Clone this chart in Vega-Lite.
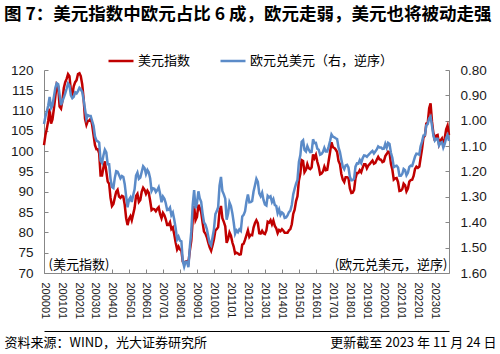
{
  "$schema": "https://vega.github.io/schema/vega-lite/v6.json",
  "width": 405,
  "height": 203,
  "autosize": "none",
  "padding": {"left": 44, "top": 70, "right": 51, "bottom": 81},
  "background": "white",
  "config": {"view": {"stroke": null}, "font": "Noto Sans CJK SC"},
  "title": {
    "text": "图 7：美元指数中欧元占比 6 成，欧元走弱，美元也将被动走强",
    "anchor": "start",
    "frame": "group",
    "dx": -40,
    "offset": 24,
    "fontSize": 17.5,
    "fontWeight": "bold",
    "font": "Noto Sans CJK SC",
    "color": "#000000"
  },
  "data": {
    "values": [
      {"date":"2000-01","usd":101.5,"eur":1.013},{"date":"2000-02","usd":104.0,"eur":0.983},{"date":"2000-03","usd":105.5,"eur":0.964},{"date":"2000-04","usd":107.5,"eur":0.940},{"date":"2000-05","usd":110.5,"eur":0.906},{"date":"2000-06","usd":106.8,"eur":0.950},{"date":"2000-07","usd":107.8,"eur":0.940},{"date":"2000-08","usd":110.5,"eur":0.905},{"date":"2000-09","usd":113.5,"eur":0.870},{"date":"2000-10","usd":116.5,"eur":0.852},{"date":"2000-11","usd":116.0,"eur":0.856},{"date":"2000-12","usd":111.0,"eur":0.897},
      {"date":"2001-01","usd":110.5,"eur":0.938},{"date":"2001-02","usd":112.5,"eur":0.922},{"date":"2001-03","usd":115.5,"eur":0.909},{"date":"2001-04","usd":117.0,"eur":0.892},{"date":"2001-05","usd":117.8,"eur":0.874},{"date":"2001-06","usd":119.0,"eur":0.853},{"date":"2001-07","usd":118.5,"eur":0.861},{"date":"2001-08","usd":115.0,"eur":0.900},{"date":"2001-09","usd":114.0,"eur":0.911},{"date":"2001-10","usd":116.0,"eur":0.906},{"date":"2001-11","usd":117.0,"eur":0.888},{"date":"2001-12","usd":117.5,"eur":0.892},
      {"date":"2002-01","usd":119.0,"eur":0.883},{"date":"2002-02","usd":119.2,"eur":0.870},{"date":"2002-03","usd":118.5,"eur":0.876},{"date":"2002-04","usd":116.5,"eur":0.886},{"date":"2002-05","usd":113.0,"eur":0.917},{"date":"2002-06","usd":108.0,"eur":0.955},{"date":"2002-07","usd":106.5,"eur":0.992},{"date":"2002-08","usd":107.5,"eur":0.978},{"date":"2002-09","usd":107.5,"eur":0.981},{"date":"2002-10","usd":108.0,"eur":0.981},{"date":"2002-11","usd":106.5,"eur":1.001},{"date":"2002-12","usd":104.0,"eur":1.020},
      {"date":"2003-01","usd":101.5,"eur":1.062},{"date":"2003-02","usd":100.5,"eur":1.078},{"date":"2003-03","usd":100.5,"eur":1.081},{"date":"2003-04","usd":99.5,"eur":1.086},{"date":"2003-05","usd":94.0,"eur":1.157},{"date":"2003-06","usd":94.0,"eur":1.166},{"date":"2003-07","usd":96.0,"eur":1.137},{"date":"2003-08","usd":97.5,"eur":1.114},{"date":"2003-09","usd":95.0,"eur":1.125},{"date":"2003-10","usd":92.5,"eur":1.171},{"date":"2003-11","usd":92.0,"eur":1.171},{"date":"2003-12","usd":88.5,"eur":1.229},
      {"date":"2004-01","usd":86.5,"eur":1.261},{"date":"2004-02","usd":87.0,"eur":1.265},{"date":"2004-03","usd":88.5,"eur":1.226},{"date":"2004-04","usd":90.0,"eur":1.199},{"date":"2004-05","usd":90.5,"eur":1.201},{"date":"2004-06","usd":88.8,"eur":1.214},{"date":"2004-07","usd":88.5,"eur":1.227},{"date":"2004-08","usd":89.0,"eur":1.218},{"date":"2004-09","usd":88.8,"eur":1.222},{"date":"2004-10","usd":86.8,"eur":1.250},{"date":"2004-11","usd":83.5,"eur":1.298},{"date":"2004-12","usd":81.8,"eur":1.341},
      {"date":"2005-01","usd":83.3,"eur":1.311},{"date":"2005-02","usd":84.0,"eur":1.302},{"date":"2005-03","usd":83.0,"eur":1.320},{"date":"2005-04","usd":84.5,"eur":1.294},{"date":"2005-05","usd":86.0,"eur":1.270},{"date":"2005-06","usd":89.0,"eur":1.216},{"date":"2005-07","usd":89.5,"eur":1.204},{"date":"2005-08","usd":87.5,"eur":1.229},{"date":"2005-09","usd":88.0,"eur":1.224},{"date":"2005-10","usd":90.0,"eur":1.202},{"date":"2005-11","usd":91.0,"eur":1.179},{"date":"2005-12","usd":90.5,"eur":1.186},
      {"date":"2006-01","usd":89.5,"eur":1.210},{"date":"2006-02","usd":90.3,"eur":1.194},{"date":"2006-03","usd":89.8,"eur":1.203},{"date":"2006-04","usd":87.8,"eur":1.227},{"date":"2006-05","usd":85.5,"eur":1.277},{"date":"2006-06","usd":85.8,"eur":1.266},{"date":"2006-07","usd":85.7,"eur":1.268},{"date":"2006-08","usd":85.2,"eur":1.281},{"date":"2006-09","usd":85.8,"eur":1.273},{"date":"2006-10","usd":86.2,"eur":1.262},{"date":"2006-11","usd":84.5,"eur":1.288},{"date":"2006-12","usd":83.5,"eur":1.321},
      {"date":"2007-01","usd":84.8,"eur":1.299},{"date":"2007-02","usd":84.2,"eur":1.308},{"date":"2007-03","usd":83.3,"eur":1.324},{"date":"2007-04","usd":81.8,"eur":1.352},{"date":"2007-05","usd":81.8,"eur":1.351},{"date":"2007-06","usd":82.5,"eur":1.342},{"date":"2007-07","usd":80.8,"eur":1.372},{"date":"2007-08","usd":81.2,"eur":1.362},{"date":"2007-09","usd":79.5,"eur":1.390},{"date":"2007-10","usd":77.5,"eur":1.423},{"date":"2007-11","usd":75.8,"eur":1.468},{"date":"2007-12","usd":76.5,"eur":1.457},
      {"date":"2008-01","usd":75.8,"eur":1.472},{"date":"2008-02","usd":75.5,"eur":1.475},{"date":"2008-03","usd":72.8,"eur":1.552},{"date":"2008-04","usd":72.3,"eur":1.575},{"date":"2008-05","usd":72.8,"eur":1.556},{"date":"2008-06","usd":72.9,"eur":1.556},{"date":"2008-07","usd":72.5,"eur":1.577},{"date":"2008-08","usd":75.5,"eur":1.497},{"date":"2008-09","usd":78.0,"eur":1.437},{"date":"2008-10","usd":83.0,"eur":1.332},{"date":"2008-11","usd":86.5,"eur":1.273},{"date":"2008-12","usd":83.0,"eur":1.345},
      {"date":"2009-01","usd":83.8,"eur":1.324},{"date":"2009-02","usd":86.8,"eur":1.278},{"date":"2009-03","usd":86.0,"eur":1.305},{"date":"2009-04","usd":85.0,"eur":1.319},{"date":"2009-05","usd":82.5,"eur":1.365},{"date":"2009-06","usd":80.2,"eur":1.401},{"date":"2009-07","usd":79.7,"eur":1.409},{"date":"2009-08","usd":78.8,"eur":1.427},{"date":"2009-09","usd":77.5,"eur":1.456},{"date":"2009-10","usd":76.3,"eur":1.482},{"date":"2009-11","usd":75.5,"eur":1.491},{"date":"2009-12","usd":76.8,"eur":1.460},
      {"date":"2010-01","usd":78.3,"eur":1.427},{"date":"2010-02","usd":80.5,"eur":1.368},{"date":"2010-03","usd":80.8,"eur":1.357},{"date":"2010-04","usd":81.3,"eur":1.341},{"date":"2010-05","usd":85.3,"eur":1.256},{"date":"2010-06","usd":86.5,"eur":1.221},{"date":"2010-07","usd":83.5,"eur":1.277},{"date":"2010-08","usd":82.6,"eur":1.290},{"date":"2010-09","usd":81.5,"eur":1.307},{"date":"2010-10","usd":77.4,"eur":1.390},{"date":"2010-11","usd":78.4,"eur":1.366},{"date":"2010-12","usd":80.0,"eur":1.322},
      {"date":"2011-01","usd":79.2,"eur":1.336},{"date":"2011-02","usd":77.5,"eur":1.365},{"date":"2011-03","usd":76.5,"eur":1.400},{"date":"2011-04","usd":74.8,"eur":1.445},{"date":"2011-05","usd":75.0,"eur":1.432},{"date":"2011-06","usd":74.8,"eur":1.439},{"date":"2011-07","usd":74.5,"eur":1.428},{"date":"2011-08","usd":74.6,"eur":1.434},{"date":"2011-09","usd":77.0,"eur":1.377},{"date":"2011-10","usd":77.2,"eur":1.371},{"date":"2011-11","usd":78.2,"eur":1.356},{"date":"2011-12","usd":79.3,"eur":1.318},
      {"date":"2012-01","usd":80.5,"eur":1.291},{"date":"2012-02","usd":78.9,"eur":1.321},{"date":"2012-03","usd":79.4,"eur":1.320},{"date":"2012-04","usd":79.3,"eur":1.316},{"date":"2012-05","usd":81.2,"eur":1.279},{"date":"2012-06","usd":82.3,"eur":1.254},{"date":"2012-07","usd":83.0,"eur":1.229},{"date":"2012-08","usd":82.3,"eur":1.241},{"date":"2012-09","usd":79.8,"eur":1.286},{"date":"2012-10","usd":79.7,"eur":1.297},{"date":"2012-11","usd":80.4,"eur":1.283},{"date":"2012-12","usd":79.8,"eur":1.312},
      {"date":"2013-01","usd":79.6,"eur":1.330},{"date":"2013-02","usd":80.5,"eur":1.334},{"date":"2013-03","usd":82.6,"eur":1.296},{"date":"2013-04","usd":82.4,"eur":1.302},{"date":"2013-05","usd":83.0,"eur":1.298},{"date":"2013-06","usd":82.0,"eur":1.320},{"date":"2013-07","usd":82.9,"eur":1.309},{"date":"2013-08","usd":81.6,"eur":1.332},{"date":"2013-09","usd":81.0,"eur":1.336},{"date":"2013-10","usd":79.8,"eur":1.364},{"date":"2013-11","usd":80.6,"eur":1.349},{"date":"2013-12","usd":80.3,"eur":1.371},
      {"date":"2014-01","usd":80.8,"eur":1.361},{"date":"2014-02","usd":80.4,"eur":1.366},{"date":"2014-03","usd":79.9,"eur":1.383},{"date":"2014-04","usd":79.9,"eur":1.381},{"date":"2014-05","usd":79.9,"eur":1.373},{"date":"2014-06","usd":80.5,"eur":1.360},{"date":"2014-07","usd":80.8,"eur":1.354},{"date":"2014-08","usd":82.0,"eur":1.332},{"date":"2014-09","usd":84.6,"eur":1.290},{"date":"2014-10","usd":85.6,"eur":1.268},{"date":"2014-11","usd":87.7,"eur":1.248},{"date":"2014-12","usd":88.9,"eur":1.233},
      {"date":"2015-01","usd":92.8,"eur":1.162},{"date":"2015-02","usd":94.5,"eur":1.135},{"date":"2015-03","usd":97.8,"eur":1.083},{"date":"2015-04","usd":97.6,"eur":1.077},{"date":"2015-05","usd":94.8,"eur":1.115},{"date":"2015-06","usd":95.4,"eur":1.121},{"date":"2015-07","usd":96.8,"eur":1.100},{"date":"2015-08","usd":95.8,"eur":1.114},{"date":"2015-09","usd":95.6,"eur":1.124},{"date":"2015-10","usd":96.0,"eur":1.123},{"date":"2015-11","usd":99.2,"eur":1.073},{"date":"2015-12","usd":98.3,"eur":1.088},
      {"date":"2016-01","usd":99.1,"eur":1.087},{"date":"2016-02","usd":97.4,"eur":1.110},{"date":"2016-03","usd":96.2,"eur":1.114},{"date":"2016-04","usd":94.3,"eur":1.134},{"date":"2016-05","usd":94.5,"eur":1.131},{"date":"2016-06","usd":95.0,"eur":1.123},{"date":"2016-07","usd":96.2,"eur":1.107},{"date":"2016-08","usd":95.3,"eur":1.121},{"date":"2016-09","usd":95.4,"eur":1.121},{"date":"2016-10","usd":97.6,"eur":1.102},{"date":"2016-11","usd":99.8,"eur":1.080},{"date":"2016-12","usd":102.2,"eur":1.054},
      {"date":"2017-01","usd":101.0,"eur":1.063},{"date":"2017-02","usd":100.8,"eur":1.065},{"date":"2017-03","usd":100.4,"eur":1.069},{"date":"2017-04","usd":99.8,"eur":1.072},{"date":"2017-05","usd":97.6,"eur":1.105},{"date":"2017-06","usd":96.8,"eur":1.123},{"date":"2017-07","usd":94.4,"eur":1.153},{"date":"2017-08","usd":93.0,"eur":1.181},{"date":"2017-09","usd":92.4,"eur":1.191},{"date":"2017-10","usd":93.6,"eur":1.176},{"date":"2017-11","usd":93.6,"eur":1.174},{"date":"2017-12","usd":93.4,"eur":1.184},
      {"date":"2018-01","usd":90.8,"eur":1.221},{"date":"2018-02","usd":89.7,"eur":1.235},{"date":"2018-03","usd":89.8,"eur":1.234},{"date":"2018-04","usd":90.5,"eur":1.228},{"date":"2018-05","usd":93.3,"eur":1.181},{"date":"2018-06","usd":94.6,"eur":1.168},{"date":"2018-07","usd":94.6,"eur":1.169},{"date":"2018-08","usd":95.3,"eur":1.155},{"date":"2018-09","usd":94.8,"eur":1.166},{"date":"2018-10","usd":95.9,"eur":1.148},{"date":"2018-11","usd":96.8,"eur":1.137},{"date":"2018-12","usd":96.8,"eur":1.138},
      {"date":"2019-01","usd":95.8,"eur":1.142},{"date":"2019-02","usd":96.5,"eur":1.135},{"date":"2019-03","usd":96.8,"eur":1.130},{"date":"2019-04","usd":97.3,"eur":1.124},{"date":"2019-05","usd":97.7,"eur":1.119},{"date":"2019-06","usd":96.9,"eur":1.129},{"date":"2019-07","usd":97.1,"eur":1.121},{"date":"2019-08","usd":97.9,"eur":1.113},{"date":"2019-09","usd":98.6,"eur":1.101},{"date":"2019-10","usd":98.0,"eur":1.105},{"date":"2019-11","usd":97.9,"eur":1.105},{"date":"2019-12","usd":97.3,"eur":1.111},
      {"date":"2020-01","usd":97.5,"eur":1.110},{"date":"2020-02","usd":98.8,"eur":1.091},{"date":"2020-03","usd":99.3,"eur":1.106},{"date":"2020-04","usd":99.9,"eur":1.087},{"date":"2020-05","usd":99.7,"eur":1.091},{"date":"2020-06","usd":96.9,"eur":1.126},{"date":"2020-07","usd":95.5,"eur":1.146},{"date":"2020-08","usd":93.0,"eur":1.183},{"date":"2020-09","usd":93.3,"eur":1.179},{"date":"2020-10","usd":93.4,"eur":1.177},{"date":"2020-11","usd":92.4,"eur":1.184},{"date":"2020-12","usd":90.2,"eur":1.217},
      {"date":"2021-01","usd":90.3,"eur":1.217},{"date":"2021-02","usd":90.7,"eur":1.209},{"date":"2021-03","usd":92.0,"eur":1.190},{"date":"2021-04","usd":91.6,"eur":1.195},{"date":"2021-05","usd":90.1,"eur":1.215},{"date":"2021-06","usd":90.8,"eur":1.205},{"date":"2021-07","usd":92.5,"eur":1.182},{"date":"2021-08","usd":92.9,"eur":1.177},{"date":"2021-09","usd":93.0,"eur":1.178},{"date":"2021-10","usd":93.9,"eur":1.160},{"date":"2021-11","usd":95.6,"eur":1.141},{"date":"2021-12","usd":96.2,"eur":1.130},
      {"date":"2022-01","usd":95.9,"eur":1.131},{"date":"2022-02","usd":96.2,"eur":1.134},{"date":"2022-03","usd":98.3,"eur":1.101},{"date":"2022-04","usd":100.6,"eur":1.082},{"date":"2022-05","usd":103.4,"eur":1.058},{"date":"2022-06","usd":103.8,"eur":1.057},{"date":"2022-07","usd":106.8,"eur":1.018},{"date":"2022-08","usd":107.0,"eur":1.013},{"date":"2022-09","usd":110.6,"eur":0.990},{"date":"2022-10","usd":111.8,"eur":0.983},{"date":"2022-11","usd":107.2,"eur":1.020},{"date":"2022-12","usd":104.4,"eur":1.059},
      {"date":"2023-01","usd":102.6,"eur":1.078},{"date":"2023-02","usd":103.9,"eur":1.071},{"date":"2023-03","usd":104.0,"eur":1.071},{"date":"2023-04","usd":101.7,"eur":1.097},{"date":"2023-05","usd":102.6,"eur":1.087},{"date":"2023-06","usd":103.1,"eur":1.084},{"date":"2023-07","usd":101.4,"eur":1.106},{"date":"2023-08","usd":103.2,"eur":1.091},{"date":"2023-09","usd":105.4,"eur":1.068},{"date":"2023-10","usd":106.3,"eur":1.056},{"date":"2023-11","usd":104.0,"eur":1.080}
    ]
  },
  "layer": [
    {
      "mark": {"type": "line", "strokeWidth": 2.5, "interpolate": "linear"},
      "encoding": {
        "x": {
          "field": "date",
          "type": "temporal",
          "scale": {"type": "utc", "domain": [{"year": 2000, "month": 1, "date": 1, "utc": true}, {"year": 2023, "month": 11, "date": 1, "utc": true}]},
          "axis": {
            "orient": "bottom",
            "format": "%Y%m",
            "tickCount": {"interval": "year", "step": 1},
            "labelAngle": 90,
            "labelFont": "Liberation Sans",
            "labelFontSize": 11,
            "labelColor": "#1a1a1a",
            "labelPadding": 13,
            "labelFlush": false,
            "labelOverlap": false,
            "tickSize": -4,
            "tickColor": "#878787",
            "domainColor": "#878787",
            "grid": false,
            "title": "资料来源：WIND，光大证券研究所",
            "titleX": -40,
            "titleY": 69,
            "titleAlign": "left",
            "titleBaseline": "middle",
            "titleFont": "Noto Sans CJK SC",
            "titleFontSize": 13,
            "titleFontWeight": "normal",
            "titleColor": "#000000"
          }
        },
        "y": {
          "field": "usd",
          "type": "quantitative",
          "scale": {"domain": [70, 120], "nice": false, "zero": false},
          "axis": {
            "orient": "left",
            "values": [70, 75, 80, 85, 90, 95, 100, 105, 110, 115, 120],
            "labelFont": "Liberation Sans",
            "labelFontSize": 13.5,
            "labelColor": "#1a1a1a",
            "labelPadding": 15,
            "tickSize": -4,
            "tickColor": "#878787",
            "domainColor": "#878787",
            "grid": false,
            "title": "(美元指数)",
            "titleAngle": 0,
            "titleX": 4,
            "titleY": 194,
            "titleAlign": "left",
            "titleBaseline": "middle",
            "titleFont": "Noto Sans CJK SC",
            "titleFontSize": 13,
            "titleFontWeight": "normal",
            "titleColor": "#000000"
          }
        },
        "color": {
          "datum": "美元指数",
          "type": "nominal",
          "scale": {"domain": ["美元指数", "欧元兑美元（右，逆序）"], "range": ["#C00000", "#5B8BC8"]},
          "legend": {
            "orient": "none",
            "legendX": 63,
            "legendY": -23,
            "direction": "horizontal",
            "title": null,
            "symbolType": "stroke",
            "symbolSize": 625,
            "symbolStrokeWidth": 2.5,
            "labelFont": "Noto Sans CJK SC",
            "labelFontSize": 13,
            "labelColor": "#000000",
            "labelOffset": 3,
            "columnPadding": 24,
            "padding": 0
          }
        }
      }
    },
    {
      "mark": {"type": "line", "strokeWidth": 2.5, "interpolate": "linear"},
      "encoding": {
        "x": {
          "field": "date",
          "type": "temporal",
          "axis": {
            "orient": "bottom",
            "offset": 58,
            "labels": false,
            "ticks": false,
            "domain": true,
            "domainColor": "#000000",
            "domainWidth": 1.2,
            "grid": false,
            "title": "更新截至 2023 年 11 月 24 日",
            "titleX": 452,
            "titleY": 11,
            "titleAlign": "right",
            "titleBaseline": "middle",
            "titleFont": "Noto Sans CJK SC",
            "titleFontSize": 13,
            "titleFontWeight": "normal",
            "titleColor": "#000000"
          }
        },
        "y": {
          "field": "eur",
          "type": "quantitative",
          "scale": {"domain": [0.8, 1.6], "nice": false, "zero": false, "reverse": true},
          "axis": {
            "orient": "right",
            "values": [0.8, 0.9, 1.0, 1.1, 1.2, 1.3, 1.4, 1.5, 1.6],
            "format": ".2f",
            "labelFont": "Liberation Sans",
            "labelFontSize": 13.5,
            "labelColor": "#1a1a1a",
            "labelPadding": 15,
            "tickSize": -4,
            "tickColor": "#878787",
            "domainColor": "#878787",
            "grid": false,
            "title": "(欧元兑美元，逆序)",
            "titleAngle": 0,
            "titleX": -2,
            "titleY": 194,
            "titleAlign": "right",
            "titleBaseline": "middle",
            "titleFont": "Noto Sans CJK SC",
            "titleFontSize": 13,
            "titleFontWeight": "normal",
            "titleColor": "#000000"
          }
        },
        "color": {"datum": "欧元兑美元（右，逆序）", "type": "nominal"}
      }
    }
  ],
  "resolve": {"scale": {"y": "independent"}, "axis": {"x": "independent"}}
}
